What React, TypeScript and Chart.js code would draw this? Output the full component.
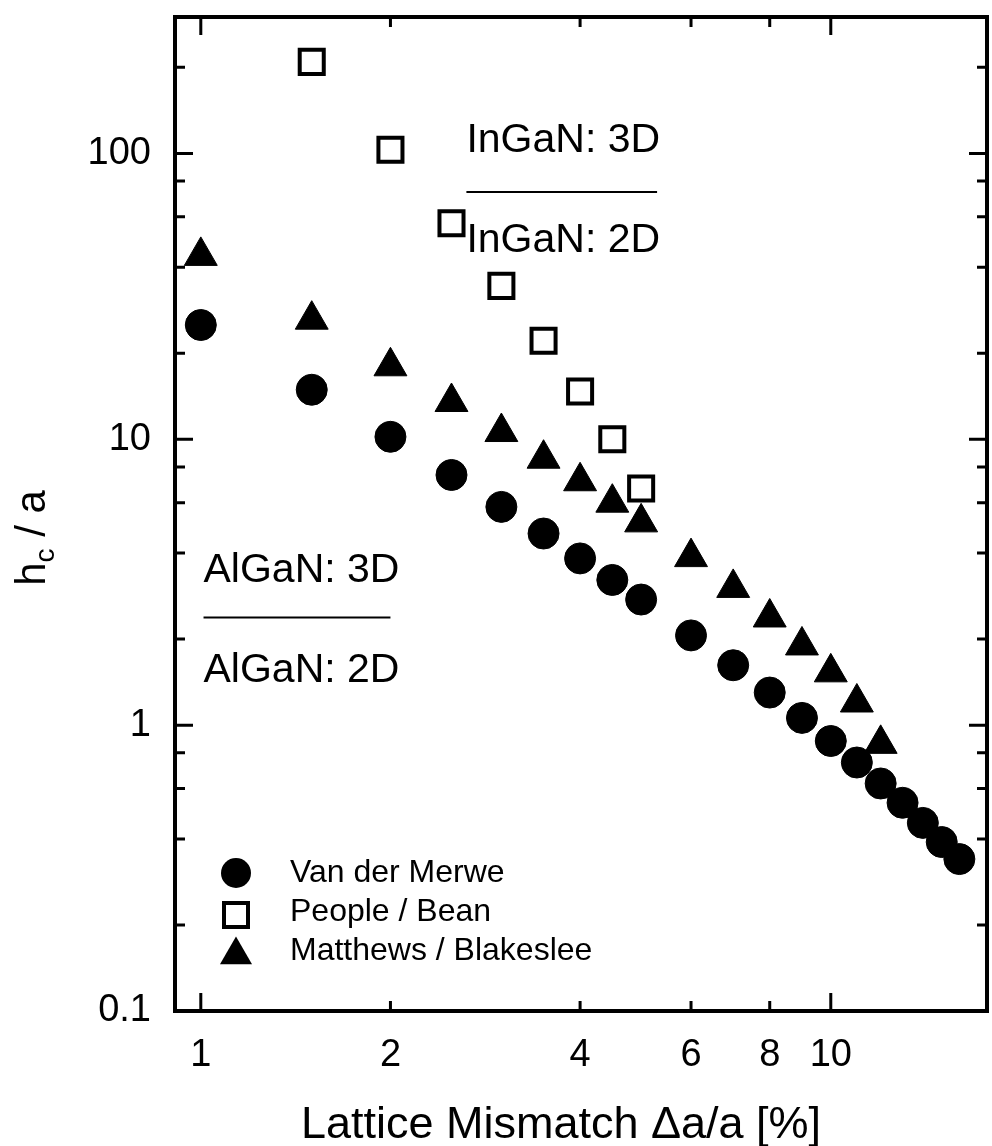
import React, { useEffect, useRef } from 'react';
import { Chart, registerables } from 'chart.js';

Chart.register(...registerables);

const FONT = '"Liberation Sans", Arial, Helvetica, sans-serif';

// Van der Merwe critical thickness
const vdmMismatch = [1, 1.5, 2, 2.5, 3, 3.5, 4, 4.5, 5, 6, 7, 8, 9, 10, 11, 12, 13, 14, 15, 16];
const vdmThickness = [25.1, 14.9, 10.2, 7.5, 5.8, 4.68, 3.83, 3.22, 2.75, 2.06, 1.62, 1.3, 1.06, 0.88, 0.74, 0.625, 0.535, 0.455, 0.39, 0.34];

// People / Bean critical thickness
const pbMismatch = [1.5, 2, 2.5, 3, 3.5, 4, 4.5, 5];
const pbThickness = [209, 103, 57, 34.4, 22.1, 14.7, 10.0, 6.73];

// Matthews / Blakeslee critical thickness
const mbMismatch = [1, 1.5, 2, 2.5, 3, 3.5, 4, 4.5, 5, 6, 7, 8, 9, 10, 11, 12];
const mbThickness = [43.8, 26.2, 18.0, 13.5, 10.6, 8.55, 7.13, 6.0, 5.12, 3.87, 3.02, 2.38, 1.9, 1.53, 1.2, 0.86];

const seriesNames = ['Van der Merwe', 'People / Bean', 'Matthews / Blakeslee'];

// axis ticks
const xTickValues = [1, 2, 4, 6, 8, 10];
const xTickLabels = ['1', '2', '4', '6', '8', '10'];
const yTickValues = [0.1, 1, 10, 100];
const yTickLabels = ['0.1', '1', '10', '100'];
const xMajorMarks = [1, 10];
const xMinorMarks = [2, 4, 6, 8];
const yMajorMarks = [0.1, 1, 10, 100];
const yMinorMarks = [0.2, 0.4, 0.6, 0.8, 2, 4, 6, 8, 20, 40, 60, 80, 200];

// growth-mode labels (left edge x, baseline y, in data units)
const regimeText = ['InGaN: 3D', 'InGaN: 2D', 'AlGaN: 3D', 'AlGaN: 2D'];
const regimeX = [2.64, 2.64, 1.01, 1.01];
const regimeY = [101, 45.3, 3.17, 1.41];

// separator lines between the 3D / 2D labels
const dividerStartX = [2.64, 1.01];
const dividerEndX = [5.3, 2.0];
const dividerY = [73.3, 2.38];

const xTitle = 'Lattice Mismatch \u0394a/a [%]';

const toPoints = (xs: number[], ys: number[]) => xs.map((x, i) => ({ x, y: ys[i] }));

function drawMarker(ctx: CanvasRenderingContext2D, kind: number, x: number, y: number) {
  ctx.save();
  ctx.fillStyle = '#000';
  ctx.strokeStyle = '#000';
  if (kind === 0) {
    ctx.beginPath();
    ctx.arc(x, y, 15, 0, Math.PI * 2);
    ctx.fill();
  } else if (kind === 1) {
    ctx.lineWidth = 4;
    ctx.fillStyle = '#fff';
    ctx.beginPath();
    ctx.rect(x - 12, y - 12, 24, 24);
    ctx.fill();
    ctx.stroke();
  } else {
    const r = 18.5;
    ctx.beginPath();
    ctx.moveTo(x, y - r);
    ctx.lineTo(x + r * Math.sin((2 * Math.PI) / 3), y + r / 2);
    ctx.lineTo(x - r * Math.sin((2 * Math.PI) / 3), y + r / 2);
    ctx.closePath();
    ctx.fill();
  }
  ctx.restore();
}

const decorations = {
  id: 'decorations',
  afterDraw(chart: any) {
    const { ctx, chartArea: a, scales } = chart;
    const xs = scales.x;
    const ys = scales.y;
    ctx.save();
    ctx.strokeStyle = '#000';
    ctx.fillStyle = '#000';

    // inward tick marks on all four sides
    ctx.lineWidth = 3;
    const xMark = (v: number, len: number) => {
      const px = xs.getPixelForValue(v);
      ctx.beginPath();
      ctx.moveTo(px, a.bottom);
      ctx.lineTo(px, a.bottom - len);
      ctx.moveTo(px, a.top);
      ctx.lineTo(px, a.top + len);
      ctx.stroke();
    };
    const yMark = (v: number, len: number) => {
      const py = ys.getPixelForValue(v);
      ctx.beginPath();
      ctx.moveTo(a.left, py);
      ctx.lineTo(a.left + len, py);
      ctx.moveTo(a.right, py);
      ctx.lineTo(a.right - len, py);
      ctx.stroke();
    };
    xMajorMarks.forEach((v) => xMark(v, 18));
    xMinorMarks.forEach((v) => xMark(v, 10));
    yMajorMarks.forEach((v) => yMark(v, 18));
    yMinorMarks.forEach((v) => yMark(v, 10));

    // plot frame
    ctx.lineWidth = 4;
    ctx.strokeRect(a.left, a.top, a.right - a.left, a.bottom - a.top);

    // growth-mode labels and separators
    ctx.font = `41px ${FONT}`;
    ctx.textAlign = 'left';
    ctx.textBaseline = 'alphabetic';
    regimeText.forEach((t, i) => {
      ctx.fillText(t, xs.getPixelForValue(regimeX[i]), ys.getPixelForValue(regimeY[i]));
    });
    ctx.lineWidth = 2;
    dividerY.forEach((v, i) => {
      const py = ys.getPixelForValue(v);
      ctx.beginPath();
      ctx.moveTo(xs.getPixelForValue(dividerStartX[i]), py);
      ctx.lineTo(xs.getPixelForValue(dividerEndX[i]), py);
      ctx.stroke();
    });

    // legend
    ctx.font = `32px ${FONT}`;
    ctx.textBaseline = 'middle';
    const rows = [a.bottom - 138, a.bottom - 99, a.bottom - 60];
    const markerY = [a.bottom - 138, a.bottom - 96, a.bottom - 56];
    seriesNames.forEach((name, i) => {
      drawMarker(ctx, i, a.left + 61, markerY[i]);
      ctx.fillStyle = '#000';
      ctx.fillText(name, a.left + 115, rows[i]);
    });

    // x axis title
    ctx.font = `45px ${FONT}`;
    ctx.textAlign = 'center';
    ctx.textBaseline = 'alphabetic';
    ctx.fillText(xTitle, (a.left + a.right) / 2 - 20, a.bottom + 127);

    // y axis title: h_c / a, rotated
    const big = `42px ${FONT}`;
    const small = `28px ${FONT}`;
    ctx.font = big;
    const wH = ctx.measureText('h').width;
    const wRest = ctx.measureText(' / a').width;
    ctx.font = small;
    const wC = ctx.measureText('c').width;
    const total = wH + wC + wRest;
    const cy = (a.top + a.bottom) / 2 + 24;
    ctx.translate(a.left - 130, cy + total / 2);
    ctx.rotate(-Math.PI / 2);
    ctx.textAlign = 'left';
    ctx.font = big;
    ctx.fillText('h', 0, 0);
    ctx.font = small;
    ctx.fillText('c', wH, 9);
    ctx.font = big;
    ctx.fillText(' / a', wH + wC, 0);
    ctx.restore();
  },
};

const noPadding = (s: any) => {
  s.paddingLeft = 0;
  s.paddingRight = 0;
  s.paddingTop = 0;
  s.paddingBottom = 0;
};

export default function App() {
  const canvasRef = useRef<HTMLCanvasElement | null>(null);

  useEffect(() => {
    const canvas = canvasRef.current;
    if (!canvas) return;
    const chart = new Chart(canvas, {
      type: 'scatter',
      data: {
        datasets: [
          {
            label: seriesNames[0],
            data: toPoints(vdmMismatch, vdmThickness),
            pointStyle: 'circle',
            pointRadius: 15.5,
            backgroundColor: '#000',
            borderColor: '#000',
            borderWidth: 1,
          },
          {
            label: seriesNames[1],
            data: toPoints(pbMismatch, pbThickness),
            pointStyle: 'rect',
            pointRadius: 17,
            backgroundColor: '#fff',
            borderColor: '#000',
            borderWidth: 4,
          },
          {
            label: seriesNames[2],
            data: toPoints(mbMismatch, mbThickness),
            pointStyle: 'triangle',
            pointRadius: 19,
            backgroundColor: '#000',
            borderColor: '#000',
            borderWidth: 1,
          },
        ],
      },
      options: {
        animation: false,
        responsive: false,
        devicePixelRatio: 1,
        events: [],
        layout: { autoPadding: false, padding: { left: 0, right: 5, top: 17, bottom: 0 } },
        plugins: {
          legend: { display: false },
          tooltip: { enabled: false },
          title: { display: false },
        },
        scales: {
          x: {
            type: 'logarithmic',
            min: 0.91,
            max: 17.7,
            grid: { display: false, drawTicks: false },
            border: { display: false },
            afterBuildTicks: (s: any) => {
              s.ticks = xTickValues.map((value) => ({ value }));
            },
            afterFit: (s: any) => {
              s.height = 135;
              noPadding(s);
            },
            ticks: {
              autoSkip: false,
              maxRotation: 0,
              padding: 22,
              color: '#000',
              font: { family: FONT, size: 38 },
              callback: (v: any) => {
                const i = xTickValues.indexOf(Number(v));
                return i >= 0 ? xTickLabels[i] : '';
              },
            },
          },
          y: {
            type: 'logarithmic',
            min: 0.1,
            max: 300,
            grid: { display: false, drawTicks: false },
            border: { display: false },
            afterBuildTicks: (s: any) => {
              s.ticks = yTickValues.map((value) => ({ value }));
            },
            afterFit: (s: any) => {
              s.width = 175;
              noPadding(s);
            },
            ticks: {
              autoSkip: false,
              padding: 24,
              color: '#000',
              font: { family: FONT, size: 38 },
              callback: (v: any) => {
                const i = yTickValues.findIndex((t) => Math.abs(t - Number(v)) < 1e-9);
                return i >= 0 ? yTickLabels[i] : '';
              },
            },
          },
        },
      },
      plugins: [decorations],
    });
    return () => chart.destroy();
  }, []);

  return (
    <div style={{ position: 'absolute', left: 0, top: 0, width: 992, height: 1146, background: '#fff' }}>
      <canvas ref={canvasRef} width={992} height={1146} style={{ display: 'block' }} />
    </div>
  );
}
